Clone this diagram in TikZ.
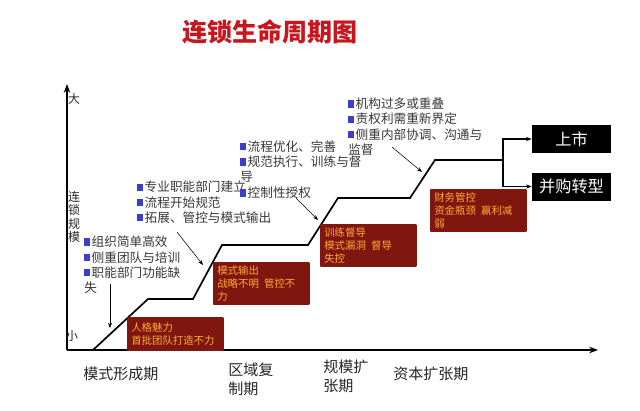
\documentclass[tikz,border=0pt]{standalone}
\usepackage{fontspec}
\newfontfamily\cjk{Noto Sans CJK SC}
\usetikzlibrary{arrows.meta}
\definecolor{titlered}{RGB}{200,22,30}
\definecolor{boxred}{RGB}{178,40,32}
\definecolor{boxdark}{RGB}{128,22,16}
\definecolor{warnorange}{RGB}{252,172,52}
\definecolor{bulletblue}{RGB}{62,62,205}
\definecolor{listgray}{RGB}{55,55,55}
\newcommand{\blt}{{\color{bulletblue}\rule[0.05em]{0.42em}{0.62em}}\,}

\begin{document}
\begin{tikzpicture}[x=0.025cm, y=-0.025cm, >={Stealth[length=1.6mm]},
  item/.style={anchor=north west, inner sep=0, align=left, text=listgray,
    font=\cjk\fontsize{9}{10.7}\selectfont},
  risk/.style={anchor=north west, inner sep=2.5pt, align=left, text=warnorange,
    left color=boxdark, middle color=boxred, right color=boxdark,
    minimum width=2.4cm, text width=2.2cm, font=\cjk\fontsize{7.4}{9.2}\selectfont},
  exitbox/.style={fill=black, text=white, minimum width=1.98cm, minimum height=0.7cm,
    inner sep=0, font=\cjk\fontsize{11.5}{12}\selectfont},
  phase/.style={anchor=north west, inner sep=0, align=left, text=black!85,
    font=\cjk\fontsize{10.7}{13.5}\selectfont},
  ylab/.style={inner sep=0, text=black!85, font=\cjk\fontsize{8.5}{9.5}\selectfont},
  axis/.style={-{Stealth[length=2.2mm]}, line width=1.4pt},
  stair/.style={line width=1.2pt},
  pointer/.style={-{Stealth[length=1.3mm]}, thin}]
\useasboundingbox (0,0) rectangle (640,410);
% title
\node[font=\cjk\bfseries\fontsize{17.8}{20}\selectfont, text=titlered] (title) at (270,32) {连锁生命周期图};
% axes
\coordinate (O) at (67,350);
\draw[axis] (O) -- (67,84);
\draw[axis] (O) -- (598,350);
\node[ylab] (big)   at (74,99)  {大};
\node[ylab, align=center] (scale) at (74,217) {连\\锁\\规\\模};
\node[ylab] (small) at (72,336) {小};
% life-cycle staircase
\coordinate (fork) at (503,160);
\draw[stair] (93,350) -- (148,299) -- (193,299) -- (222,245) -- (308,245)
  -- (338,198) -- (410,198) -- (435,160) -- (fork);
% exits
\node[exitbox] (ipo) at (571.5,139) {上市};
\node[exitbox] (ma)  at (571.5,186.5) {并购转型};
\draw[stair, -{Stealth[length=1.4mm]}] (fork) |- (ipo.west);
\draw[stair, -{Stealth[length=1.4mm]}] (fork) |- (ma.west);
% features of each stage
\node[item] (listA) at (84,236) {\blt 组织简单高效\\\blt 侧重团队与培训\\\blt 职能部门功能缺\\失};
\node[item] (listB) at (137,181) {\blt 专业职能部门建立\\\blt 流程开始规范\\\blt 拓展、管控与模式输出};
\node[item, font=\cjk\fontsize{9}{11}\selectfont] (listC) at (240,140) {\blt 流程优化、完善\\\blt 规范执行、训练与督\\导\\\blt 控制性授权};
\node[item] (listD) at (348,98)  {\blt 机构过多或重叠\\\blt 责权利需重新界定\\\blt 侧重内部协调、沟通与\\监督};
% pointers to the curve
\coordinate (pA1) at (110,284); \coordinate (pA2) at (110,328);
\coordinate (pB1) at (177,232); \coordinate (pB2) at (203,265);
\coordinate (pC1) at (296,198); \coordinate (pC2) at (318,220);
\coordinate (pD1) at (392,147); \coordinate (pD2) at (422,172);
\draw[pointer] (pA1) -- (pA2);
\draw[pointer] (pB1) -- (pB2);
\draw[pointer] (pC1) -- (pC2);
\draw[pointer] (pD1) -- (pD2);
% risks of each stage
\node[risk, minimum height=0.83cm] (riskA) at (127,317) {人格魅力\\首批团队打造不力};
\node[risk, minimum height=0.9cm]  (riskB) at (213,262) {模式输出\\战略不明\enspace 管控不\\力};
\node[risk, minimum height=0.97cm] (riskC) at (320,224) {训练督导\\模式漏洞\enspace 督导\\失控};
\node[risk, minimum height=0.95cm] (riskD) at (430,189) {财务管控\\资金瓶颈\enspace 赢利减\\弱};
% stage names
\node[phase] (stage1) at (83,367)  {模式形成期};
\node[phase] (stage2) at (228,363) {区域复\\制期};
\node[phase] (stage3) at (323,360) {规模扩\\张期};
\node[phase] (stage4) at (393,367) {资本扩张期};
\end{tikzpicture}
\end{document}
